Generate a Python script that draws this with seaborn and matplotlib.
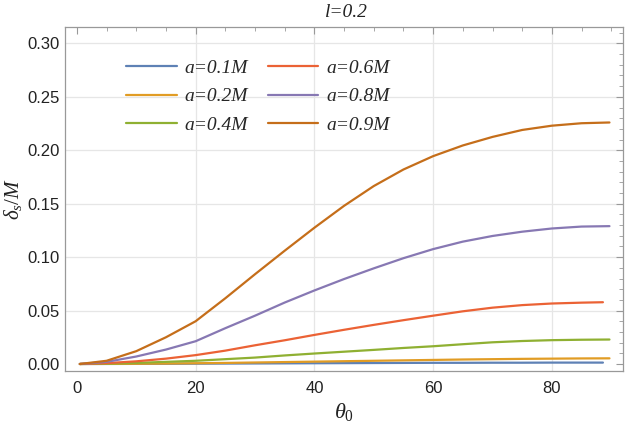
import numpy as np
import pandas as pd
import seaborn as sns
import matplotlib.pyplot as plt
from matplotlib.ticker import MultipleLocator

# theta_0 sample points (degrees); two series stop slightly earlier
theta_long = [0.5, 5, 10, 15, 20, 25, 30, 35, 40, 45, 50, 55, 60, 65, 70, 75, 80, 85, 89.7]
theta_short = [0.5, 5, 10, 15, 20, 25, 30, 35, 40, 45, 50, 55, 60, 65, 70, 75, 80, 85, 88.6]

# delta_s / M
d_01 = [0, 0.00003, 0.0001, 0.0002, 0.0003, 0.0004, 0.0005, 0.0006, 0.0007, 0.0008,
        0.0009, 0.0010, 0.0011, 0.0011, 0.0012, 0.0012, 0.0013, 0.0013, 0.0013]
d_02 = [0, 0.0001, 0.0002, 0.0004, 0.0007, 0.0010, 0.0014, 0.0018, 0.0022, 0.0026,
        0.0030, 0.0034, 0.0038, 0.0042, 0.0045, 0.0048, 0.0050, 0.0052, 0.0053]
d_04 = [0, 0.0003, 0.0010, 0.0020, 0.0030, 0.0045, 0.0060, 0.0080, 0.0098, 0.0115,
        0.0132, 0.0150, 0.0166, 0.0185, 0.0203, 0.0215, 0.0223, 0.0227, 0.0229]
d_06 = [0, 0.0008, 0.0025, 0.0050, 0.0083, 0.0125, 0.0175, 0.0222, 0.0272, 0.0320,
        0.0366, 0.0410, 0.0452, 0.0493, 0.0527, 0.0551, 0.0566, 0.0574, 0.0578]
d_08 = [0, 0.002, 0.007, 0.0135, 0.0213, 0.0335, 0.0452, 0.0575, 0.0688, 0.0795,
        0.0895, 0.0990, 0.1075, 0.1145, 0.1198, 0.1238, 0.1268, 0.1286, 0.1290]
d_09 = [0, 0.003, 0.012, 0.025, 0.040, 0.0615, 0.0840, 0.1060, 0.1275, 0.1480,
        0.1665, 0.1820, 0.1945, 0.2045, 0.2125, 0.2190, 0.2230, 0.2253, 0.2260]

labels = ["a=0.1M", "a=0.2M", "a=0.4M", "a=0.6M", "a=0.8M", "a=0.9M"]
colors = ["#5E81B5", "#E19C24", "#8FB032", "#EB6235", "#8778B3", "#C56E1A"]

frames = []
for lab, th, d in zip(labels,
                      [theta_short, theta_long, theta_long, theta_short, theta_long, theta_long],
                      [d_01, d_02, d_04, d_06, d_08, d_09]):
    frames.append(pd.DataFrame({"theta": th, "delta": d, "a": lab}))
df = pd.concat(frames, ignore_index=True)

sns.set_theme(style="white")
plt.rcParams['font.family'] = ['Liberation Sans', 'DejaVu Sans']
plt.rcParams['mathtext.fontset'] = 'custom'
plt.rcParams['mathtext.it'] = 'Liberation Serif:italic'
plt.rcParams['mathtext.rm'] = 'Liberation Serif'

fig = plt.figure(figsize=(6.25, 4.26), dpi=100)
ax = fig.add_axes([0.104, 0.129, 0.893, 0.808])

sns.lineplot(data=df, x="theta", y="delta", hue="a", palette=colors,
             estimator=None, sort=False, linewidth=1.6, ax=ax)
for ln in ax.get_lines():
    ln.set_solid_joinstyle("round")

ax.set_xlim(-2, 92)
ax.set_ylim(-0.0066, 0.3155)
ax.xaxis.set_major_locator(MultipleLocator(20))
ax.xaxis.set_minor_locator(MultipleLocator(5))
ax.yaxis.set_major_locator(MultipleLocator(0.05))
ax.yaxis.set_minor_locator(MultipleLocator(0.01))
ax.set_yticks([0, 0.05, 0.10, 0.15, 0.20, 0.25, 0.30])
ax.set_yticklabels(["0.00", "0.05", "0.10", "0.15", "0.20", "0.25", "0.30"])

for v in [20, 40, 60, 80]:
    ax.axvline(v, color="#e6e6e6", lw=0.9, zorder=0)
for v in [0.05, 0.10, 0.15, 0.20, 0.25, 0.30]:
    ax.axhline(v, color="#e6e6e6", lw=0.9, zorder=0)

for s in ax.spines.values():
    s.set_color("#999999")
    s.set_linewidth(0.9)
ax.tick_params(which="both", direction="in", top=True, right=True,
               color="#999999", labelsize=12, labelcolor="#222222")
ax.tick_params(which="major", length=5, width=0.8)
ax.tick_params(which="minor", length=3, width=0.6)
ax.tick_params(axis="x", which="major", pad=7)
ax.tick_params(axis="y", which="major", pad=4)

ax.set_xlabel(r"$\theta_0$", fontsize=16, color="#222222", labelpad=4)
ax.set_ylabel(r"$\delta_s/M$", fontsize=15, color="#222222", labelpad=2)
ax.set_title("l=0.2", fontsize=14, fontstyle="italic", family="Liberation Serif",
             color="#222222", pad=7, x=0.504)

handles, _ = ax.get_legend_handles_labels()
leg = ax.legend(handles, labels, ncol=2, loc="upper left", frameon=False,
                bbox_to_anchor=(0.110, 0.905), borderaxespad=0, borderpad=0,
                handlelength=2.6, handletextpad=0.4, columnspacing=1.0,
                labelspacing=0.55,
                prop={"family": "Liberation Serif", "style": "italic", "size": 14})

fig.savefig("out.png", dpi=100)
